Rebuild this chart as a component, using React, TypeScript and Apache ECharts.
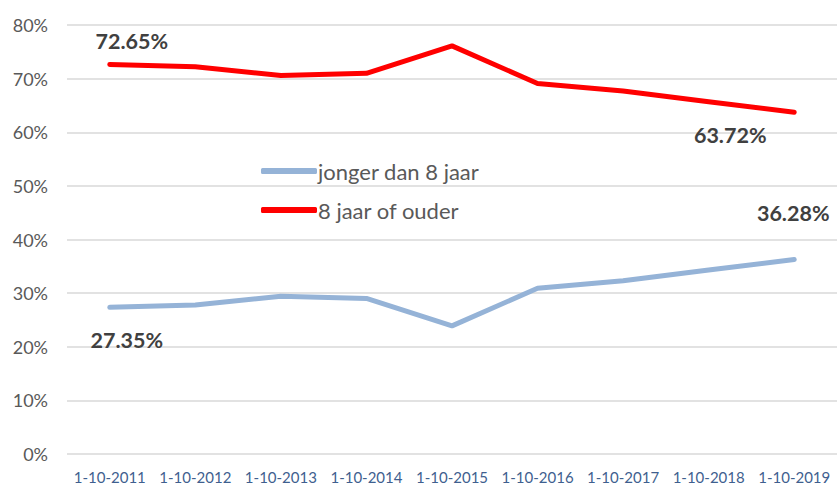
import React, { useEffect, useRef } from "react";
import * as echarts from "echarts";

const categories = ["1-10-2011", "1-10-2012", "1-10-2013", "1-10-2014", "1-10-2015", "1-10-2016", "1-10-2017", "1-10-2018", "1-10-2019"];
const jonger = [27.35, 27.8, 29.4, 29.0, 23.9, 30.9, 32.3, 34.3, 36.28];
const ouder = [72.65, 72.2, 70.6, 71.0, 76.1, 69.1, 67.7, 65.7, 63.72];
const yTicks = [0, 10, 20, 30, 40, 50, 60, 70, 80];

const FONT = "Lato, 'Open Sans', sans-serif";

export default function App() {
  const ref = useRef<HTMLDivElement>(null);
  useEffect(() => {
    if (!ref.current) return;
    const chart = echarts.init(ref.current, null, { renderer: "svg" });
    const lblBase = {
      show: true,
      position: "inside",
      align: "center",
      verticalAlign: "middle",
      fontFamily: FONT,
      fontWeight: "bold",
      fontSize: 21.5,
      color: "#404040",
      formatter: (p: any) => p.value.toFixed(2) + "%",
    };
    const mkData = (arr: number[], firstOff: number[], lastOff: number[]) =>
      arr.map((v, i) => {
        if (i === 0) return { value: v, label: { ...lblBase, offset: firstOff } };
        if (i === arr.length - 1) return { value: v, label: { ...lblBase, offset: lastOff } };
        return { value: v, label: { show: false } };
      });
    chart.setOption({
      animation: false,
      backgroundColor: "#ffffff",
      grid: { left: 67, right: 0, top: 25, bottom: 31, containLabel: false },
      legend: {
        orient: "vertical",
        left: 256,
        top: 155,
        itemWidth: 56,
        itemHeight: 6,
        itemGap: 17,
        icon: "roundRect",
        textStyle: { fontFamily: FONT, fontSize: 22, color: "#595959", padding: [0, 0, 0, -4] },
        data: ["jonger dan 8 jaar", "8 jaar of ouder"],
      },
      xAxis: {
        type: "category",
        data: categories,
        boundaryGap: true,
        axisLine: { show: false },
        axisTick: { show: false },
        axisLabel: { fontFamily: FONT, fontSize: 15, color: "#3F5F8F", margin: 15, interval: 0 },
      },
      yAxis: {
        type: "value",
        min: yTicks[0],
        max: yTicks[yTicks.length - 1],
        interval: 10,
        axisLine: { show: false },
        axisTick: { show: false },
        axisLabel: { fontFamily: FONT, fontSize: 18, color: "#595959", margin: 19, formatter: "{value}%" },
        splitLine: { lineStyle: { color: "#D9D9D9", width: 1.5 } },
      },
      series: [
        {
          name: "jonger dan 8 jaar",
          type: "line",
          data: mkData(jonger, [17, 33], [-1, -46]),
          symbol: "circle",
          symbolSize: 0,
          showSymbol: true,
          lineStyle: { color: "#95B3D7", width: 5, cap: "round", join: "round" },
          itemStyle: { color: "#95B3D7" },
        },
        {
          name: "8 jaar of ouder",
          type: "line",
          data: mkData(ouder, [22, -23], [-64, 23]),
          symbol: "circle",
          symbolSize: 0,
          showSymbol: true,
          lineStyle: { color: "#FF0000", width: 5, cap: "round", join: "round" },
          itemStyle: { color: "#FF0000" },
        },
      ],
    });
    return () => chart.dispose();
  }, []);
  return <div ref={ref} style={{ width: 837, height: 485, position: "fixed", left: 0, top: 0 }} />;
}
